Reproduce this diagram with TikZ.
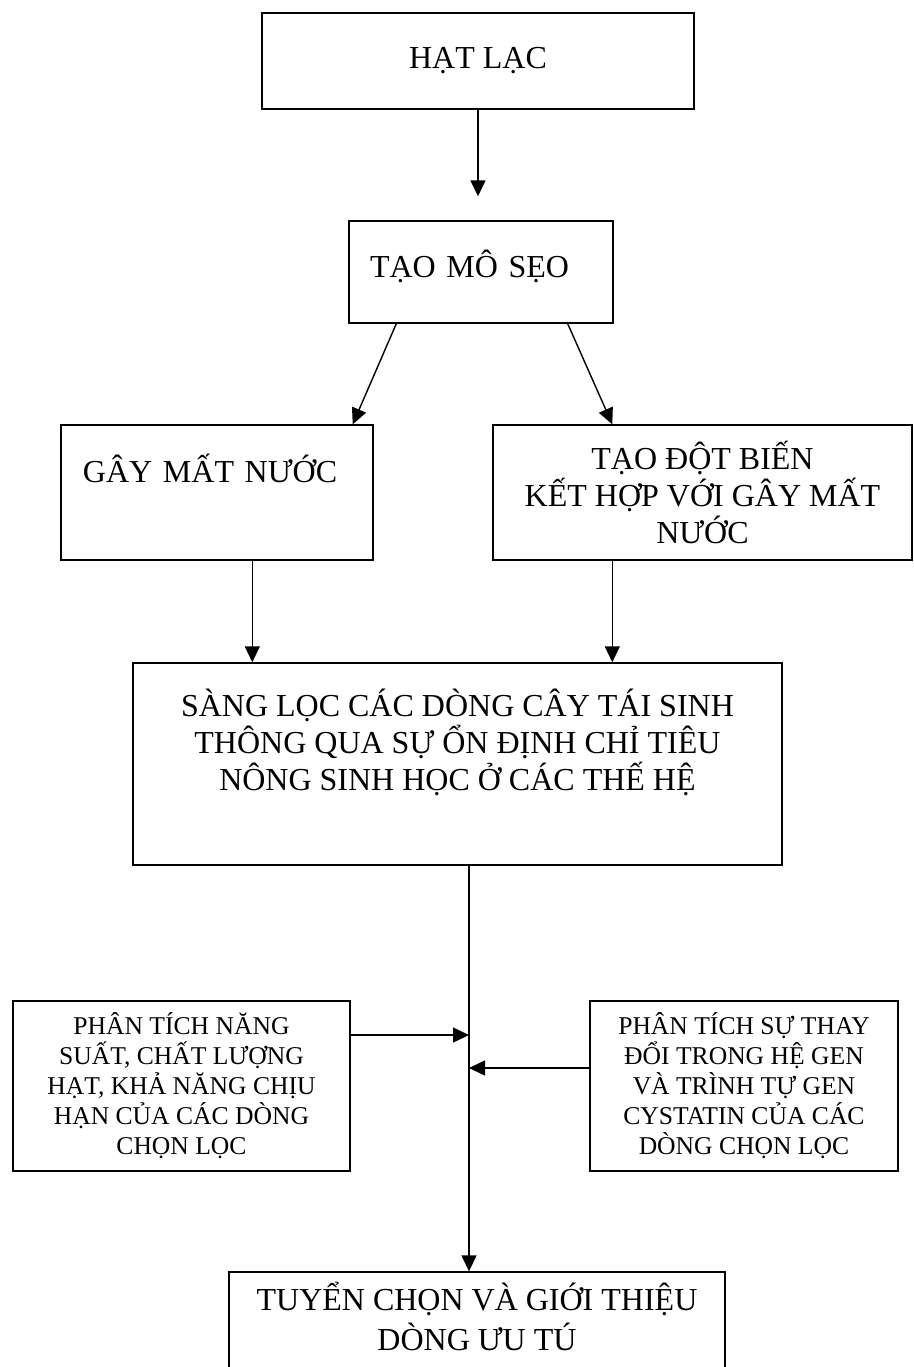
\documentclass[tikz,border=0pt]{standalone}
\usepackage{fontspec}
\setmainfont{Liberation Serif}
\usetikzlibrary{arrows.meta}
\tikzset{box/.style={draw, rectangle, line width=0.7pt, inner sep=0pt, align=center, font=\fontsize{16}{18.5}\selectfont},
         smallbox/.style={box, font=\fontsize{12.8}{15}\selectfont},
         arr/.style={line width=0.7pt, -{Triangle[length=8pt,width=7.5pt]}}}

\begin{document}
\begin{tikzpicture}[x=0.5pt,y=-0.5pt]
\useasboundingbox (0,0) rectangle (914,1367);
\node [box, minimum width=216pt, minimum height=48pt] (hat) at (478,61) {HẠT LẠC};
\node [box, align=left, text width=111pt, inner xsep=10.5pt, text height=28pt, text depth=23pt] (seo) at (481,272) {TẠO MÔ SẸO};
\node [box, align=left, text width=134pt, inner xsep=11pt, text height=28.5pt, text depth=39pt] (nuoc) at (217,492.5) {GÂY MẤT NƯỚC};
\node [box, minimum width=209.5pt, minimum height=67.5pt] (dotbien) at (702.5,492.5) {TẠO ĐỘT BIẾN\\KẾT HỢP VỚI GÂY MẤT\\NƯỚC};
\node [box, minimum width=324.5pt, text height=63.5pt, text depth=37.5pt] (sangloc) at (457.5,764) {SÀNG LỌC CÁC DÒNG CÂY TÁI SINH\\THÔNG QUA SỰ ỔN ĐỊNH CHỈ TIÊU\\NÔNG SINH HỌC Ở CÁC THẾ HỆ};
\node [smallbox, minimum width=168.5pt, minimum height=85pt] (nangsuat) at (181.5,1086) {PHÂN TÍCH NĂNG\\SUẤT, CHẤT LƯỢNG\\HẠT, KHẢ NĂNG CHỊU\\HẠN CỦA CÁC DÒNG\\CHỌN LỌC};
\node [smallbox, minimum width=154pt, minimum height=85pt] (hegen) at (744,1086) {PHÂN TÍCH SỰ THAY\\ĐỔI TRONG HỆ GEN\\VÀ TRÌNH TỰ GEN\\CYSTATIN CỦA CÁC\\DÒNG CHỌN LỌC};
\node [box, minimum width=248pt, text height=39pt, text depth=15pt, font=\fontsize{16}{20}\selectfont] (tuyenchon) at (477,1326) {TUYỂN CHỌN VÀ GIỚI THIỆU\\DÒNG ƯU TÚ};
\coordinate (trunk) at (469,0);
\coordinate (c1) at ([xshift=60pt]sangloc.north west);
\coordinate (c2) at ([xshift=240pt]sangloc.north west);
\draw [arr, shorten >=12pt] (hat.south) -- (hat.south |- seo.north);
\draw [arr] ([xshift=24pt]seo.south west) -- ([xshift=-10.5pt]nuoc.north east);
\draw [arr] ([xshift=-23pt]seo.south east) -- ([xshift=60pt]dotbien.north west);
\draw [arr] (nuoc.south -| c1) -- (c1);
\draw [arr] (dotbien.south -| c2) -- (c2);
\draw [arr] (sangloc.south -| trunk) -- (tuyenchon.north -| trunk);
\draw [arr] ([yshift=25.5pt]nangsuat.east) -- ([yshift=25.5pt]nangsuat.east -| trunk);
\draw [arr] ([yshift=9pt]hegen.west) -- ([yshift=9pt]hegen.west -| trunk);
\end{tikzpicture}
\end{document}
